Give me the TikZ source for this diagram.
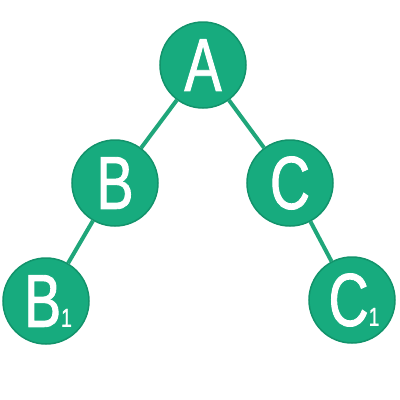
\documentclass[tikz,border=0pt]{standalone}
\usepackage{fontspec}
\usetikzlibrary{backgrounds}
\setmainfont{Liberation Sans}[FakeStretch=0.74,FakeBold=1.2]
\definecolor{g}{HTML}{17AB7E}
\definecolor{gd}{HTML}{12936B}
\definecolor{ge}{HTML}{1FA67A}
\newcommand{\subone}{\fontsize{26}{26}\selectfont 1}
\begin{document}
\begin{tikzpicture}[x=1pt,y=-1pt,
  ball/.style={circle,fill=g,draw=gd,line width=1.5pt,minimum size=86pt,inner sep=0pt,text=white,font=\fontsize{75}{75}\selectfont},
  edge/.style={draw=ge,line width=4pt}]
\useasboundingbox (0,0) rectangle (400,400);
\node[ball] (A) at (203,65) {A};
\node[ball] (B) at (115,183) {B};
\node[ball] (C) at (290,183) {C};
\node[ball] (B1) at (46,301) {\hspace{4pt}B\subone};
\node[ball] (C1) at (352,300) {\hspace{4pt}C\subone};
\begin{scope}[on background layer]
\draw[edge] (A) -- (B);
\draw[edge] (A) -- (C);
\draw[edge] (B) -- (B1);
\draw[edge] (C) -- (C1);
\end{scope}
\end{tikzpicture}
\end{document}
